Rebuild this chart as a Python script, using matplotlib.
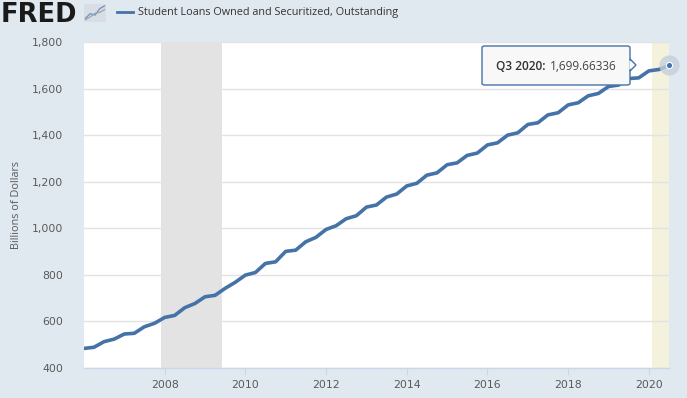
import numpy as np
import matplotlib.pyplot as plt
import matplotlib.dates as mdates
from matplotlib.patches import FancyBboxPatch, Polygon
import pandas as pd

# Student Loans Owned and Securitized, Outstanding (quarterly, billions of dollars)
start_quarter = '2006-01-01'
loans = [484, 489, 513, 524, 546, 549, 577, 592,
         617, 626, 659, 677, 706, 712, 742, 768,
         799, 810, 849, 856, 901, 906, 942, 961,
         995, 1011, 1041, 1054, 1091, 1100, 1134, 1147,
         1182, 1193, 1228, 1238, 1273, 1281, 1313, 1323,
         1358, 1367, 1400, 1410, 1446, 1453, 1487, 1496,
         1530, 1539, 1569, 1579, 1609, 1615, 1643, 1646,
         1676, 1682, 1699.66336]
dates = pd.date_range(start_quarter, periods=len(loans), freq='QS')

recessions = [('2007-12-01', '2009-06-01')]
highlight = ('2020-02-01', '2020-07-01')

yticks = [400, 600, 800, 1000, 1200, 1400, 1600, 1800]
xyears = [2008, 2010, 2012, 2014, 2016, 2018, 2020]

bg = '#e1e9f0'
line_col = '#4572a7'
txt = '#595959'

fig = plt.figure(figsize=(6.87, 3.98), dpi=100, facecolor=bg)
ax = fig.add_axes([84/687, 1 - 368/398, (669-84)/687, (368-42)/398])
ax.set_facecolor('white')

for a, b in recessions:
    ax.axvspan(pd.Timestamp(a), pd.Timestamp(b), color='#e3e3e3', lw=0, zorder=0)
ax.axvspan(pd.Timestamp(highlight[0]), pd.Timestamp(highlight[1]), color='#f4f2dc', lw=0, zorder=0)

ax.plot(dates, loans, color=line_col, lw=2.6, solid_joinstyle='round', zorder=3)
ax.plot(dates[-1], loans[-1], 'o', ms=14.5, color='#c3cfdd', alpha=0.8, mec='none', zorder=4, clip_on=False)
ax.plot(dates[-1], loans[-1], 'o', ms=4.5, color=line_col, mec='white', mew=0.8, zorder=5, clip_on=False)

ax.set_xlim(dates[0], dates[-1])
ax.set_ylim(400, 1800)
ax.set_yticks(yticks)
ax.set_yticklabels([f'{v:,}' for v in yticks])
ax.set_xticks([pd.Timestamp(f'{y}-01-01') for y in xyears])
ax.xaxis.set_major_formatter(mdates.DateFormatter('%Y'))

ax.grid(axis='y', color='#e3e3e3', lw=1)
ax.set_axisbelow(True)
for s in ['top', 'right', 'left']:
    ax.spines[s].set_visible(False)
ax.spines['bottom'].set_color('#ccd6eb')
ax.spines['bottom'].set_linewidth(1)
ax.tick_params(axis='y', length=0, pad=15, labelsize=7.8, labelcolor=txt)
ax.tick_params(axis='x', length=5, color='#ccd6eb', pad=4, labelsize=7.8, labelcolor=txt)

fig.text(17/687, 1 - 205/398, 'Billions of Dollars', rotation=90, ha='center', va='center',
         fontsize=7.8, color=txt, family='Open Sans')

# tooltip
tip = FancyBboxPatch((482/687, 1 - 85/398), (630-482)/687, (85-46)/398,
                     boxstyle='round,pad=0,rounding_size=0.004', transform=fig.transFigure,
                     fc='#f8f8f8', ec=line_col, lw=1, zorder=10)
fig.add_artist(tip)
fig.add_artist(Polygon([(630/687, 1 - 59/398), (636/687, 1 - 65/398), (630/687, 1 - 71/398)],
                       closed=True, transform=fig.transFigure, fc='#f8f8f8', ec=line_col, lw=1, zorder=10))
fig.add_artist(Polygon([(629.3/687, 1 - 60/398), (629.3/687, 1 - 70/398), (634.5/687, 1 - 65/398)],
                       closed=True, transform=fig.transFigure, fc='#f8f8f8', ec='none', zorder=11))
fig.text(496/687, 1 - 66/398, 'Q3 2020:', ha='left', va='center', fontsize=8.6,
         color='#333333', family='Open Sans', weight='semibold', zorder=12)
fig.text(550/687, 1 - 66/398, f'{loans[-1]:,.5f}', ha='left', va='center', fontsize=8.5,
         color='#444444', family='Open Sans', zorder=12)

# header
fig.text(1/687, 1 - 22/398, 'FRED', ha='left', va='baseline', fontsize=18.5, weight='heavy',
         color='#1a1a1a', family='DejaVu Sans')
icon = fig.add_axes([84/687, 1 - 22/398, 22/687, 18/398])
icon.set_facecolor('#d9dee4')
icon.plot([0, 1, 2, 3, 4], [0.5, 1.5, 1.2, 2.6, 3.2], color='#6d8fbf', lw=0.9)
icon.plot([0, 1, 2, 3, 4], [0.2, 0.8, 1.6, 1.8, 2.4], color='#9aa6b4', lw=0.9)
icon.set_xlim(-0.3, 4.3)
icon.set_ylim(-0.3, 3.6)
icon.set_xticks([])
icon.set_yticks([])
for s in icon.spines.values():
    s.set_visible(False)

fig.add_artist(plt.Line2D([117/687, 133/687], [1 - 12/398, 1 - 12/398], color=line_col, lw=2,
                          transform=fig.transFigure))
fig.text(138/687, 1 - 12/398, 'Student Loans Owned and Securitized, Outstanding', ha='left', va='center',
         fontsize=7.8, color='#333333', family='Open Sans')

fig.savefig('out.png', dpi=100, facecolor=bg)
